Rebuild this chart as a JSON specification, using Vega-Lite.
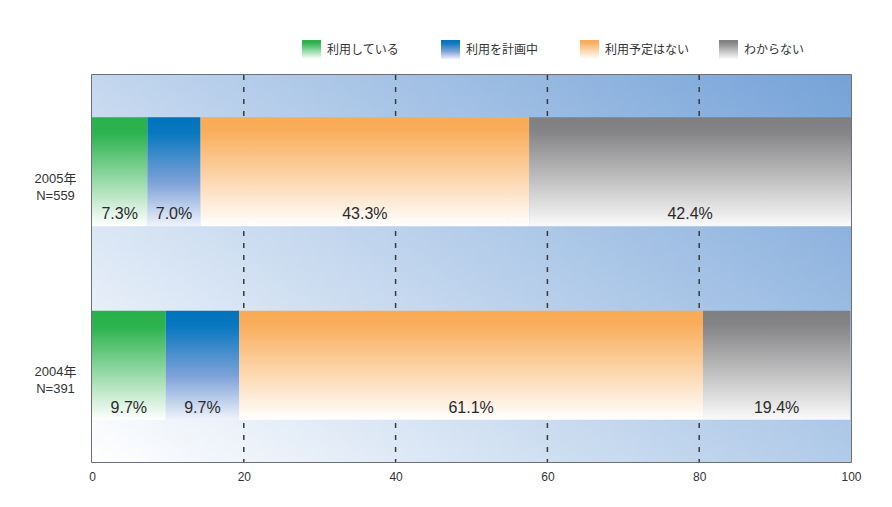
{
  "$schema": "https://vega.github.io/schema/vega-lite/v6.json",
  "width": 759,
  "height": 387,
  "autosize": {"type": "none"},
  "padding": {"left": 92, "top": 75, "right": 41, "bottom": 45},
  "background": "white",
  "config": {
    "view": {"stroke": "#3b4150", "strokeWidth": 1.5},
    "font": "Liberation Sans, Noto Sans CJK JP"
  },
  "data": {
    "values": [
      {"year": "2005年|N=559", "cat": "利用している", "ord": 1, "value": 7.3},
      {"year": "2005年|N=559", "cat": "利用を計画中", "ord": 2, "value": 7.0},
      {"year": "2005年|N=559", "cat": "利用予定はない", "ord": 3, "value": 43.3},
      {"year": "2005年|N=559", "cat": "わからない", "ord": 4, "value": 42.4},
      {"year": "2004年|N=391", "cat": "利用している", "ord": 1, "value": 9.7},
      {"year": "2004年|N=391", "cat": "利用を計画中", "ord": 2, "value": 9.7},
      {"year": "2004年|N=391", "cat": "利用予定はない", "ord": 3, "value": 61.1},
      {"year": "2004年|N=391", "cat": "わからない", "ord": 4, "value": 19.4}
    ]
  },
  "layer": [
    {
      "data": {"values": [{"from": 0, "to": 100}]},
      "mark": {
        "type": "rect",
        "color": {
          "gradient": "linear", "x1": 0, "y1": 1, "x2": 1.1, "y2": 0.15,
          "stops": [{"offset": 0, "color": "#ffffff"}, {"offset": 1, "color": "#76a3d8"}]
        }
      },
      "encoding": {
        "x": {"field": "from", "type": "quantitative", "scale": {"domain": [0, 100], "nice": false}, "title": null,
          "axis": {"values": [0, 20, 40, 60, 80, 100], "grid": false, "ticks": false, "domain": false, "labelFlush": false, "labelFontSize": 12, "labelColor": "#333", "labelPadding": 9, "labelFont": "Liberation Sans"}},
        "x2": {"field": "to"}
      }
    },
    {
      "data": {"values": [{"g": 20}, {"g": 40}, {"g": 60}, {"g": 80}]},
      "mark": {"type": "rule", "color": "#3a3a3a", "strokeDash": [5, 7], "strokeWidth": 1.5},
      "encoding": {"x": {"field": "g", "type": "quantitative", "title": null}}
    },
    {
      "mark": {"type": "bar"},
      "encoding": {
        "y": {"field": "year", "type": "nominal", "sort": null, "title": null,
          "scale": {"paddingInner": 0.437, "paddingOuter": 0.2185},
          "axis": {"ticks": false, "domain": false, "labelExpr": "split(datum.label, '|')", "labelAlign": "center", "labelBaseline": "middle", "labelPadding": 37, "labelFontSize": 13, "labelColor": "#333", "labelOffset": 7, "labelLineHeight": 17}},
        "x": {"field": "value", "type": "quantitative", "stack": "zero", "title": null},
        "order": {"field": "ord"},
        "color": {"field": "cat", "type": "nominal",
          "scale": {
            "domain": ["利用している", "利用を計画中", "利用予定はない", "わからない"],
            "range": [
              {"expr": "{gradient: 'linear', x1: 0, y1: 0, x2: 0, y2: 1, stops: [{offset: 0, color: '#29b14b'}, {offset: 0.15, color: '#2db34f'}, {offset: 1, color: '#ffffff'}]}"},
              {"expr": "{gradient: 'linear', x1: 0, y1: 0, x2: 0, y2: 1, stops: [{offset: 0, color: '#0072bc'}, {offset: 0.15, color: '#0a78c0'}, {offset: 0.6, color: '#7ea2d8'}, {offset: 1, color: '#f0f3fb'}]}"},
              {"expr": "{gradient: 'linear', x1: 0, y1: 0, x2: 0, y2: 1, stops: [{offset: 0, color: '#f9ab56'}, {offset: 0.12, color: '#f9ad5a'}, {offset: 1, color: '#ffffff'}]}"},
              {"expr": "{gradient: 'linear', x1: 0, y1: 0, x2: 0, y2: 1, stops: [{offset: 0, color: '#7f7f81'}, {offset: 0.12, color: '#838385'}, {offset: 1, color: '#fafafa'}]}"}
            ]
          },
          "legend": {"orient": "none", "legendX": 210, "legendY": -35, "direction": "horizontal", "columns": 4, "gridAlign": "all", "columnPadding": 29, "symbolType": "square", "symbolSize": 361, "symbolStrokeWidth": 0, "labelFontSize": 12, "labelFont": "Noto Sans CJK JP", "labelColor": "#333", "labelOffset": 6, "labelLimit": 200, "title": null}
        }
      }
    },
    {
      "transform": [
        {"stack": "value", "groupby": ["year"], "sort": [{"field": "ord"}], "as": ["s0", "s1"]},
        {"calculate": "(datum.s0 + datum.s1) / 2", "as": "mid"},
        {"calculate": "format(datum.value, '.1f') + '%'", "as": "pct"}
      ],
      "mark": {"type": "text", "fontSize": 16, "color": "#2a2a2a", "baseline": "middle", "font": "Liberation Sans"},
      "encoding": {
        "y": {"field": "year", "type": "nominal", "sort": null, "title": null, "bandPosition": 0.89},
        "x": {"field": "mid", "type": "quantitative", "title": null},
        "text": {"field": "pct"}
      }
    }
  ]
}
